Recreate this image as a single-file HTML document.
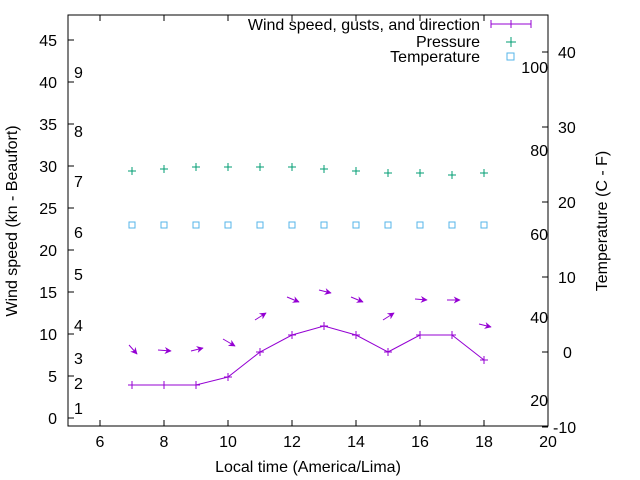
<!DOCTYPE html>
<html><head><meta charset="utf-8"><style>body{margin:0;background:#fff}svg{display:block}text{font-family:"Liberation Sans",sans-serif;font-size:16px;fill:#000}</style></head><body>
<svg width="640" height="480" viewBox="0 0 640 480" xmlns="http://www.w3.org/2000/svg">
<defs><marker id="ah" viewBox="0 0 10 10" refX="9" refY="5" markerWidth="7" markerHeight="7" markerUnits="userSpaceOnUse" orient="auto"><path d="M0,0L10,5L0,10L3,5z" fill="#9400d3"/></marker></defs>
<rect x="68" y="15" width="480" height="411" fill="none" stroke="#000" stroke-width="1"/>
<g stroke="#000">
<path d="M68,418h6M68,376h6M68,334h6M68,292h6M68,250h6M68,208h6M68,166h6M68,124h6M68,82h6M68,40h6"/>
<path d="M100,426v-6M164,426v-6M228,426v-6M292,426v-6M356,426v-6M420,426v-6M484,426v-6M548,426v-6"/>
<path d="M100,15v6M164,15v6M228,15v6M292,15v6M356,15v6M420,15v6M484,15v6"/>
<path d="M548,427h-6M548,352h-6M548,277h-6M548,202h-6M548,127h-6M548,52h-6"/>
</g>
<g text-anchor="end">
<text x="57" y="424">0</text><text x="57" y="382">5</text><text x="57" y="340">10</text><text x="57" y="298">15</text><text x="57" y="256">20</text><text x="57" y="214">25</text><text x="57" y="172">30</text><text x="57" y="130">35</text><text x="57" y="88">40</text><text x="57" y="46">45</text>
<text x="548" y="406">20</text><text x="548" y="323">40</text><text x="548" y="240">60</text><text x="548" y="156">80</text><text x="548" y="73">100</text>
<text x="480" y="30">Wind speed, gusts, and direction</text><text x="480" y="47">Pressure</text><text x="480" y="62">Temperature</text>
</g>
<g>
<text x="74" y="414">1</text><text x="74" y="389">2</text><text x="74" y="364">3</text><text x="74" y="331">4</text><text x="74" y="280">5</text><text x="74" y="238">6</text><text x="74" y="187">7</text><text x="74" y="137">8</text><text x="74" y="78">9</text>
<text x="553" y="433">-10</text><text x="563" y="358">0</text><text x="558" y="283">10</text><text x="558" y="208">20</text><text x="558" y="133">30</text><text x="558" y="58">40</text>
</g>
<g text-anchor="middle">
<text x="100" y="447">6</text><text x="164" y="447">8</text><text x="228" y="447">10</text><text x="292" y="447">12</text><text x="356" y="447">14</text><text x="420" y="447">16</text><text x="484" y="447">18</text><text x="548" y="447">20</text>
<text x="308" y="472">Local time (America/Lima)</text>
<text transform="translate(17,221) rotate(-90)">Wind speed (kn - Beaufort)</text>
<text transform="translate(607,221) rotate(-90)">Temperature (C - F)</text>
</g>
<path d="M491,24h40M491,20v8M511,20v8M531,20v8" stroke="#9400d3" fill="none"/>
<path d="M506,42h10M511,37v10" stroke="#009e73"/>
<rect x="507" y="53" width="7" height="7" fill="none" stroke="#56b4e9"/>
<g stroke="#9400d3" fill="none">
<polyline points="132,385 164,385 196,385 228,377 260,352 292,335 324,326 356,335 388,352 420,335 452,335 484,360"/>
<path d="M132,381v8M128,385h8M164,381v8M160,385h8M196,381v8M192,385h8M228,373v8M224,377h8M260,348v8M256,352h8M292,331v8M288,335h8M324,322v8M320,326h8M356,331v8M352,335h8M388,348v8M384,352h8M420,331v8M416,335h8M452,331v8M448,335h8M484,356v8M480,360h8"/>
</g>
<g stroke="#9400d3" marker-end="url(#ah)">
<line x1="129" y1="345" x2="137" y2="354"/><line x1="158" y1="350" x2="171" y2="351"/><line x1="191" y1="351" x2="203" y2="348"/><line x1="223" y1="339" x2="235" y2="346"/><line x1="255" y1="320" x2="266" y2="313"/><line x1="287" y1="297" x2="299" y2="302"/><line x1="319" y1="290" x2="331" y2="293"/><line x1="351" y1="297" x2="363" y2="302"/><line x1="383" y1="320" x2="394" y2="313"/><line x1="415" y1="299" x2="427" y2="300"/><line x1="447" y1="300" x2="460" y2="300"/><line x1="479" y1="324" x2="491" y2="327"/>
</g>
<g stroke="#009e73">
<path d="M128,171h8M132,167v8M160,169h8M164,165v8M192,167h8M196,163v8M224,167h8M228,163v8M256,167h8M260,163v8M288,167h8M292,163v8M320,169h8M324,165v8M352,171h8M356,167v8M384,173h8M388,169v8M416,173h8M420,169v8M448,175h8M452,171v8M480,173h8M484,169v8"/>
</g>
<g stroke="#56b4e9" fill="none">
<rect x="129" y="222" width="6" height="6"/><rect x="161" y="222" width="6" height="6"/><rect x="193" y="222" width="6" height="6"/><rect x="225" y="222" width="6" height="6"/><rect x="257" y="222" width="6" height="6"/><rect x="289" y="222" width="6" height="6"/><rect x="321" y="222" width="6" height="6"/><rect x="353" y="222" width="6" height="6"/><rect x="385" y="222" width="6" height="6"/><rect x="417" y="222" width="6" height="6"/><rect x="449" y="222" width="6" height="6"/><rect x="481" y="222" width="6" height="6"/>
</g>
</svg>
</body></html>
